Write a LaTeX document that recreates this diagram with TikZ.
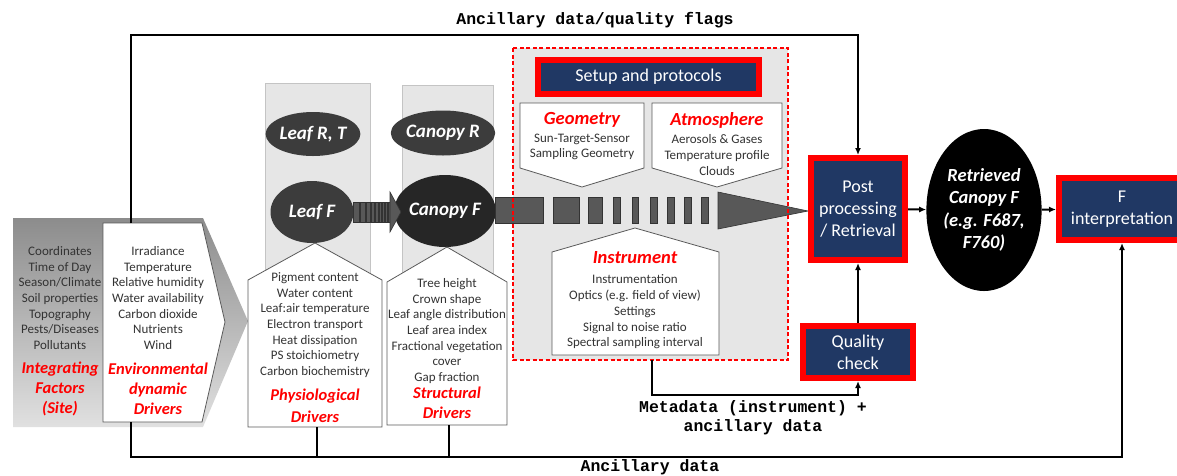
\documentclass[tikz,border=0pt]{standalone}
\usepackage{fontspec}
\setmainfont{Carlito}
\newfontfamily\monofont{Liberation Mono}
\usetikzlibrary{shapes.geometric,arrows.meta}

\definecolor{navybox}{HTML}{203864}
\definecolor{panelgray}{HTML}{E6E6E6}
\definecolor{blobgray}{HTML}{3C3C3C}
\definecolor{darkblob}{HTML}{262626}
\definecolor{textgray}{HTML}{333333}
\definecolor{edgegray}{HTML}{5A5A5A}
\definecolor{stripegray}{HTML}{585858}

\tikzset{
  body/.style={align=center, text=textgray, inner sep=0pt, font=\fontsize{13}{15.7}\selectfont},
  driver/.style={align=center, text=red, inner sep=0pt, font=\fontsize{16.5}{20}\selectfont\bfseries\itshape},
  heading/.style={text=red, inner sep=0pt, font=\fontsize{18.5}{20}\selectfont\bfseries\itshape},
  bluebox/.style={draw=red, line width=6pt, fill=navybox, text=white, align=center, inner sep=0pt, outer sep=3pt, font=\fontsize{18}{22}\selectfont},
  blob/.style={ellipse, fill=blobgray, text=white, align=center, inner sep=0pt, font=\fontsize{19}{22.5}\selectfont\bfseries\itshape},
  housebox/.style={draw=edgegray, line width=0.8pt, fill=white},
  stripe/.style={draw=black!80, line width=0.6pt, fill=stripegray},
  flow/.style={line width=2pt, -{Latex[length=7pt,width=6pt]}},
  mono/.style={align=center, inner sep=0pt, font=\monofont\bfseries\fontsize{16.5}{19}\selectfont}
}

\begin{document}
\begin{tikzpicture}[x=1pt,y=-1pt]
    \useasboundingbox (0,0) rectangle (1177,475);
    \clip (0,0) rectangle (1177,475);

    % Integrating factors - shaded arrow
    \shade[top color=black!45, bottom color=black!12] (13,218) -- (203,218) -- (248,321) -- (203,427) -- (13,427) -- cycle;
    \draw[housebox] (103,223) -- (202,223) -- (225,322) -- (202,422) -- (103,422) -- cycle;
    \node[body] (sitelist) at (60,298) {Coordinates\\Time of Day\\Season/Climate\\Soil properties\\Topography\\Pests/Diseases\\Pollutants};
    \node[driver] (sitelbl) at (60,389) {Integrating\\Factors\\(Site)};
    \node[body] (envlist) at (158,298) {Irradiance\\Temperature\\Relative humidity\\Water availability\\Carbon dioxide\\Nutrients\\Wind};
    \node[driver] (envlbl) at (158,389) {Environmental\\dynamic\\Drivers};

    % Leaf and canopy panels
    \draw[panelgray!85!black, line width=0.5pt, fill=panelgray] (265,83) rectangle (370,300);
    \draw[panelgray!85!black, line width=0.5pt, fill=panelgray] (402,85) rectangle (493,300);
    \node[blob, minimum width=83pt, minimum height=44pt] (leafrt) at (313,134) {Leaf R, T};
    \node[blob, minimum width=83pt, minimum height=62pt] (leaff) at (312,212) {Leaf F};
    \node[blob, minimum width=84pt, minimum height=45pt] (canr) at (443,133) {Canopy R};
    \node[blob, fill=darkblob, minimum width=87pt, minimum height=72pt] (canf) at (445,211) {Canopy F};

    % Striped arrow leaf -> canopy
    \foreach \a/\b in {353/359,360/365,366/370,371/374.5,375.5/378,379/381,382/384,385/387,388/390} {
        \draw[stripe, line width=0.4pt] (\a,202) rectangle (\b,222);
    }
    \draw[stripe] (390,192) -- (401,212) -- (390,232) -- cycle;

    % Physiological drivers
    \draw[housebox] (248,280) -- (315,243) -- (382,280) -- (382,427) -- (248,427) -- cycle;
    \node[body] (physlist) at (315,325) {Pigment content\\Water content\\Leaf:air temperature\\Electron transport\\Heat dissipation\\PS stoichiometry\\Carbon biochemistry};
    \node[driver, font=\fontsize{16.5}{22}\selectfont\bfseries\itshape] (physlbl) at (315,406) {Physiological\\Drivers};

    % Structural drivers
    \draw[housebox] (387,282) -- (447,247) -- (507,282) -- (507,425) -- (387,425) -- cycle;
    \node[body] (strlist) at (447,331) {Tree height\\Crown shape\\Leaf angle distribution\\Leaf area index\\Fractional vegetation\\cover\\Gap fraction};
    \node[driver] (strlbl) at (447,403) {Structural\\Drivers};

    % Setup and protocols
    \fill[panelgray] (513,48) rectangle (788,360);
    \node[bluebox, minimum width=221pt, minimum height=34pt] (setup) at (648.5,77) {Setup and protocols};
    \draw[housebox] (520,103) -- (644,103) -- (644,168) -- (582,187) -- (520,168) -- cycle;
    \node[heading] (geolbl) at (582,120) {Geometry};
    \node[body] (geolist) at (582,147) {Sun-Target-Sensor\\Sampling Geometry};
    \draw[housebox] (652,103) -- (782,103) -- (782,168) -- (717,187) -- (652,168) -- cycle;
    \node[heading] (atmlbl) at (717,120) {Atmosphere};
    \node[body] (atmlist) at (717,155) {Aerosols \& Gases\\Temperature profile\\Clouds};
    \draw[housebox] (552,252) -- (635,228) -- (719,252) -- (719,355) -- (552,355) -- cycle;
    \node[heading] (instlbl) at (635,258) {Instrument};
    \node[body] (instlist) at (635,312) {Instrumentation\\Optics (e.g. field of view)\\Settings\\Signal to noise ratio\\Spectral sampling interval};

    % Striped arrow canopy -> post processing
    \foreach \a/\b in {495/543,553/579,588/602,613/620,632/638,650/657,667/674,684/691,701/708} {
        \draw[stripe] (\a,197) rectangle (\b,223);
    }
    \draw[stripe] (718,192) -- (808,211) -- (718,229) -- cycle;
    \draw[red, line width=1.5pt, dash pattern=on 4pt off 2.5pt] (513,48) rectangle (788,360);

    % Processing chain
    \node[bluebox, minimum width=94pt, minimum height=102pt] (post) at (858,209) {Post\\processing\\/ Retrieval};
    \node[bluebox, minimum width=110pt, minimum height=52pt] (qual) at (858,352) {Quality\\check};
    \node[blob, fill=black, minimum width=105pt, minimum height=162pt, font=\fontsize{18.5}{22.5}\selectfont\bfseries\itshape] (ret) at (984,210) {Retrieved\\Canopy F\\(e.g. F687,\\F760)};
    \node[bluebox, minimum width=126pt, minimum height=62pt] (interp) at (1122,209) {F\\interpretation};

    % Data flows
    \coordinate (envtop) at (131,223);
    \coordinate (envbot) at (131,422);
    \coordinate (physbot) at (317,427);
    \coordinate (strbot) at (449,425);
    \coordinate (setupbot) at (652,360);
    \coordinate (flagsrow) at (858,35);
    \coordinate (ancrow) at (1122,457);
    \draw[flow] (envtop) |- (flagsrow) -- (post.north);
    \draw[flow] (envbot) |- (ancrow) -- (interp.south);
    \draw[line width=1.5pt] (physbot) -- (physbot |- ancrow);
    \draw[line width=1.5pt] (strbot) -- (strbot |- ancrow);
    \draw[flow] (setupbot) -- ++(0,35) -| (qual.south);
    \draw[flow] (qual) -- (post);
    \draw[flow] (post) -- (ret);
    \draw[flow] (ret) -- (interp);

    \node[mono] (flagslbl) at (595,20) {Ancillary data/quality flags};
    \node[mono] (metalbl) at (753,418) {Metadata (instrument) +\\ancillary data};
    \node[mono] (anclbl) at (650,467) {Ancillary data};
\end{tikzpicture}
\end{document}
